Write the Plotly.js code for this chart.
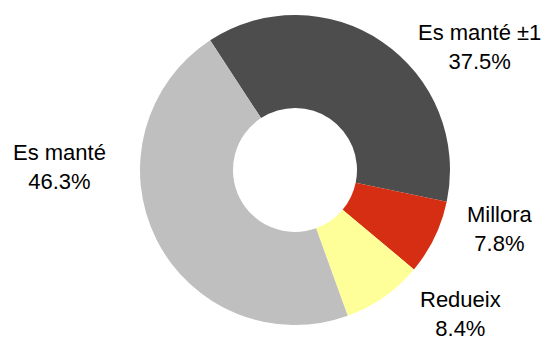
<!DOCTYPE html>
<html>
<head>
<meta charset="utf-8">
<script src="https://cdn.plot.ly/plotly-3.0.1.min.js"></script>
<style>html,body{margin:0;padding:0;background:#fff;}#chart{width:546px;height:342px;}</style>
</head>
<body>
<div id="chart"></div>
<script>
const categories = ["Es manté ±1", "Millora", "Redueix", "Es manté"];
const shares = [37.5, 7.8, 8.4, 46.3];
const sliceColors = ["#4d4d4d", "#d52e12", "#ffff99", "#bfbfbf"];

// label placement (paper coordinates of the plot area), layout only
const labelPos = [[0.8791, 0.8952], [0.9158, 0.3103], [0.8425, 0.0365], [0.1090, 0.5081]];

const annotations = categories.map((c, i) => ({
  xref: "paper", yref: "paper",
  x: labelPos[i][0], y: labelPos[i][1],
  xanchor: "center", yanchor: "middle",
  showarrow: false, align: "center",
  text: c + "<br>" + shares[i].toFixed(1) + "%",
  font: {family: "Liberation Sans, Arial, sans-serif", size: 22, color: "#000"}
}));

Plotly.newPlot("chart", [{
  type: "pie",
  labels: categories,
  values: shares,
  sort: false,
  direction: "clockwise",
  rotation: -33.2,
  hole: 0.4,
  marker: {colors: sliceColors, line: {width: 0}},
  textinfo: "none",
  domain: {x: [0.2403, 0.8403], y: [0, 1]},
  hoverinfo: "none"
}], {
  width: 546, height: 342,
  margin: {l: 0, r: 0, t: 15, b: 17},
  showlegend: false,
  annotations: annotations,
  paper_bgcolor: "#fff",
  plot_bgcolor: "#fff"
}, {staticPlot: true});
</script>
</body>
</html>
